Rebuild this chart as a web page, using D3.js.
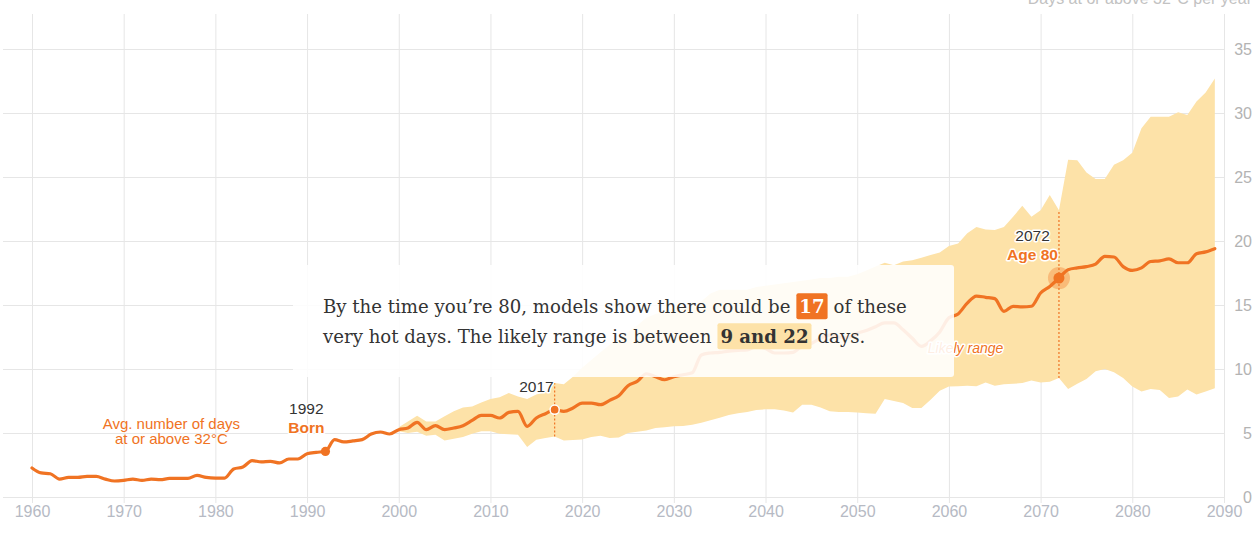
<!DOCTYPE html>
<html><head><meta charset="utf-8">
<script src="https://cdn.jsdelivr.net/npm/d3@7"></script>
<style>
body{margin:0;background:#fff;}
svg{display:block;}
</style></head><body>
<svg id="chart" width="1259" height="560"></svg>
<script>
// ---------- DATA ----------
const lineStartYear = 1960;
const avgDays = [
  2.27,1.88,1.82,1.40,1.53,1.53,1.61,1.61,1.40,1.25,   // 1960s
  1.30,1.40,1.30,1.40,1.35,1.45,1.45,1.45,1.69,1.53,   // 1970s
  1.48,1.48,2.19,2.34,2.84,2.74,2.79,2.66,2.97,2.97,   // 1980s
  3.38,3.49,3.56,4.48,4.30,4.38,4.48,4.92,5.08,4.92,   // 1990s
  5.26,5.39,5.83,5.26,5.57,5.26,5.39,5.57,5.98,6.38,   // 2000s
  6.38,6.17,6.61,6.69,5.52,6.17,6.51,6.82,6.69,6.95,   // 2010s
  7.34,7.34,7.21,7.55,7.91,8.70,9.03,9.63,9.40,9.16,   // 2020s
  9.40,9.55,9.70,11.10,11.25,11.30,11.40,11.45,11.50,11.75, // 2030s
  11.60,11.25,11.25,11.30,11.80,12.00,12.40,12.65,12.50,12.45, // 2040s
  12.80,13.00,13.30,13.60,13.60,13.07,12.40,11.77,12.20,12.90, // 2050s
  14.00,14.30,15.15,15.70,15.60,15.50,14.50,14.90,14.85,14.90, // 2060s
  15.94,16.45,17.10,17.76,17.90,18.00,18.20,18.80,18.75,18.00, // 2070s
  17.70,17.90,18.40,18.45,18.60,18.30,18.30,19.00,19.15,19.40  // 2080s
];
const bandStartYear = 2000;
const bandLow = [
  5.13,5.00,5.10,4.79,4.87,4.42,4.55,4.69,4.95,5.13,
  5.13,4.95,4.90,4.87,3.90,4.48,4.60,4.73,4.42,4.45,
  4.50,4.69,4.79,4.60,4.65,5.00,5.10,5.20,5.40,5.45,
  5.52,5.55,5.65,5.80,6.00,6.20,6.40,6.55,6.65,6.80,
  6.85,6.85,6.75,6.60,7.20,7.20,7.00,6.70,6.65,6.65,
  6.60,6.55,6.50,7.66,7.50,7.35,6.95,6.95,7.60,8.30,
  8.64,8.65,8.70,8.65,8.95,8.70,8.80,8.85,8.90,9.10,
  8.95,9.00,9.30,8.44,8.85,9.22,9.82,10.00,9.75,9.30,
  8.64,8.25,8.44,8.35,7.73,7.86,8.40,8.00,8.25,8.50
];
const bandHigh = [
  5.45,5.90,6.35,5.90,5.90,6.30,6.69,7.00,7.08,7.39,
  7.66,7.80,8.12,7.86,7.66,8.00,8.20,8.90,8.80,9.40,
  10.10,10.70,11.30,11.90,12.40,12.90,13.40,14.00,14.30,14.50,
  14.70,14.80,14.90,15.30,15.90,16.20,16.20,16.20,16.20,16.40,
  16.50,16.60,16.70,16.80,16.90,17.00,17.10,17.10,17.20,17.20,
  17.40,17.70,18.00,18.30,18.10,18.40,18.50,18.70,18.90,19.10,
  19.60,19.80,20.60,21.10,20.90,20.85,21.10,21.90,22.75,21.90,
  22.40,23.60,22.40,26.35,26.30,25.35,24.85,24.85,25.96,26.30,
  26.90,28.80,29.70,29.70,29.70,30.05,29.85,30.90,31.60,32.70
];
const xTicks = [1960,1970,1980,1990,2000,2010,2020,2030,2040,2050,2060,2070,2080,2090];
const yTicks = [0,5,10,15,20,25,30,35];
const axisTitle = "Days at or above 32°C per year";
const seriesLabel = ["Avg. number of days", "at or above 32°C"];
const bandLabel = "Likely range";
const milestones = [
  {year:1992, lines:["1992","Born"], style:"plain"},
  {year:2017, lines:["2017"], style:"ring"},
  {year:2072, lines:["2072","Age 80"], style:"halo"}
];
const noteLines = [
  [{t:"By the time you’re 80, models show there could be"},{t:"17", hl:"strong"},{t:"of these"}],
  [{t:"very hot days. The likely range is between"},{t:"9 and 22", hl:"soft"},{t:"days."}]
];

// ---------- STYLE ----------
const ORANGE = "#f07323";
const BAND = "#fde2a8";
const GRID = "#e6e6e6";
const SANS = "'Liberation Sans', Arial, sans-serif";
const SERIF = "'DejaVu Serif', Georgia, serif";

const svg = d3.select("#chart");
const x = d3.scaleLinear().domain([1960, 2090]).range([32, 1224]);
const y = d3.scaleLinear().domain([0, 35]).range([497, 49]);

const lineData = avgDays.map((v,i)=>({year: lineStartYear + i, v}));
const bandData = bandLow.map((v,i)=>({year: bandStartYear + i, lo: v, hi: bandHigh[i]}));

// grid + axes
const gx = svg.append("g").attr("transform","translate(0,503)")
  .call(d3.axisBottom(x).tickValues(xTicks).tickFormat(d3.format("d")).tickSize(-(503-14)).tickPadding(3));
gx.select(".domain").remove();
gx.selectAll("line").attr("stroke", GRID);
gx.selectAll("text").attr("fill","#b6bac4").style("font-family",SANS).style("font-size","16px");

const gy = svg.append("g").attr("transform","translate(1224,0)")
  .call(d3.axisRight(y).tickValues(yTicks).tickSize(-(1224-3)).tickPadding(8));
gy.select(".domain").remove();
gy.selectAll("line").attr("stroke", GRID);
gy.selectAll("text").attr("fill","#b3b3b3").attr("text-anchor","end").attr("x",28)
  .style("font-family",SANS).style("font-size","16px");

svg.append("text").attr("x",1252).attr("y",4).attr("text-anchor","end")
  .attr("fill","#c2c2c2").style("font-family",SANS).style("font-size","16px").text(axisTitle);

// band
svg.append("path").datum(bandData)
  .attr("fill", BAND)
  .attr("d", d3.area().x(d=>x(d.year)).y0(d=>y(d.lo)).y1(d=>y(d.hi)));

// line
svg.append("path").datum(lineData)
  .attr("fill","none").attr("stroke",ORANGE).attr("stroke-width",3.2)
  .attr("stroke-linejoin","round").attr("stroke-linecap","round")
  .attr("d", d3.line().curve(d3.curveMonotoneX).x(d=>x(d.year)).y(d=>y(d.v)));

// series label
const sl = svg.append("text").attr("text-anchor","middle").attr("fill",ORANGE)
  .style("font-family",SANS).style("font-size","15px");
seriesLabel.forEach((t,i)=> sl.append("tspan").attr("x", x(1975.2)).attr("y", 429 + i*15).text(t));

// milestones
milestones.forEach(m=>{
  const v = avgDays[m.year - lineStartYear];
  const cx = x(m.year), cy = y(v);
  const bi = m.year - bandStartYear;
  if (bi >= 0 && m.style !== "plain") {
    svg.append("line").attr("x1",cx).attr("x2",cx)
      .attr("y1", y(bandLow[bi])).attr("y2", y(bandHigh[bi]))
      .attr("stroke",ORANGE).attr("stroke-width",1.2).attr("stroke-dasharray","2,2");
  }
  if (m.style === "halo") {
    svg.append("circle").attr("cx",cx).attr("cy",cy).attr("r",11).attr("fill",ORANGE).attr("fill-opacity",0.35);
  }
  svg.append("circle").attr("cx",cx).attr("cy",cy).attr("r", m.style==="halo"?5.5:4.6)
    .attr("fill",ORANGE).attr("stroke", m.style==="ring" ? "#fff" : "none").attr("stroke-width",1.5);

  const g = svg.append("g");
  const texts = m.lines.map((t,i)=>{
    const n = m.lines.length;
    return g.append("text")
      .attr("y", cy - 18 - (n-1-i)*19.5)
      .attr("text-anchor","middle")
      .attr("fill", i===0 ? "#333" : ORANGE)
      .attr("font-weight", i===0 ? "normal" : "bold")
      .attr("stroke","#fff").attr("stroke-width",3).attr("paint-order","stroke")
      .attr("stroke-linejoin","round")
      .style("font-family",SANS).style("font-size","15.5px").text(t);
  });
  const w = d3.max(texts, t=>t.node().getComputedTextLength());
  texts.forEach(t=>t.attr("x", cx - w/2 - 1));
});

// band label
svg.append("text").attr("x", x(2057.7)).attr("y",353)
  .attr("fill",ORANGE).attr("font-style","italic")
  .attr("stroke","#fff").attr("stroke-width",3).attr("paint-order","stroke").attr("stroke-linejoin","round")
  .style("font-family",SANS).style("font-size","14px").text(bandLabel);

// note box
svg.append("rect").attr("x",293).attr("y",265).attr("width",661).attr("height",112).attr("rx",3)
  .attr("fill","#fff").attr("fill-opacity",0.88);

const noteG = svg.append("g");
// size the serif text so the first run spans the same width as in the original layout
const probe = noteG.append("text").style("font-family",SERIF).style("font-size","20px").text(noteLines[0][0].t);
const FS = 20 * 468 / probe.node().getComputedTextLength();
probe.remove();
const GAP = 6, PAD = 3;
noteLines.forEach((segs, li)=>{
  const base = 313.3 + li*30;
  let cx = 323;
  segs.forEach(s=>{
    if (s.hl) {
      cx += GAP;
      const r = noteG.append("rect").attr("y", base-20).attr("height",26).attr("rx",2)
        .attr("fill", s.hl==="strong" ? ORANGE : BAND);
      const t = noteG.append("text").attr("x", cx+PAD).attr("y", base)
        .attr("fill", s.hl==="strong" ? "#fff" : "#333").attr("font-weight","bold")
        .style("font-family",SERIF).style("font-size",FS+"px").text(s.t);
      const w = t.node().getComputedTextLength();
      r.attr("x", cx).attr("width", w + 2*PAD);
      cx += w + 2*PAD + GAP;
    } else {
      const t = noteG.append("text").attr("x", cx).attr("y", base)
        .attr("fill","#333").style("font-family",SERIF).style("font-size",FS+"px").text(s.t);
      cx += t.node().getComputedTextLength();
    }
  });
});
</script>
</body></html>
